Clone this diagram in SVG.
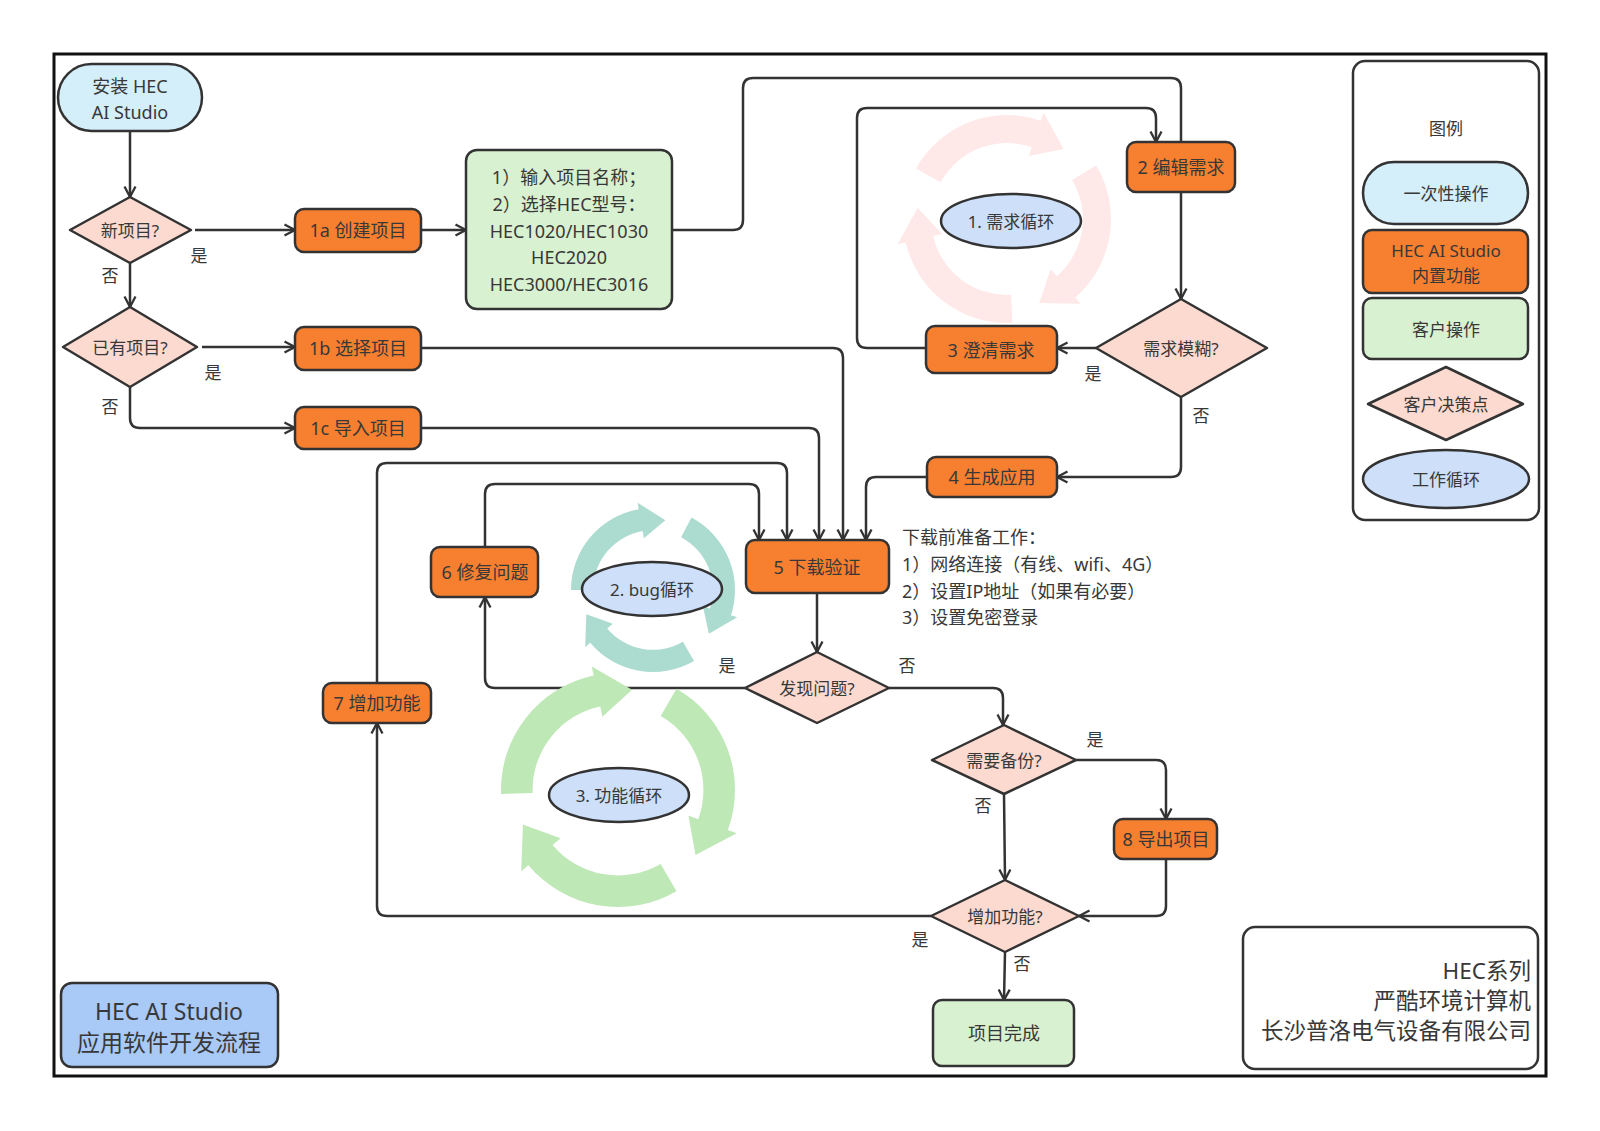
<svg xmlns="http://www.w3.org/2000/svg" xmlns:xlink="http://www.w3.org/1999/xlink" width="1600" height="1131" viewBox="0 0 1600 1131">
<style>
text{font-family:"Noto Sans","Noto Sans CJK SC",sans-serif;fill:#383838;}
.t{text-anchor:middle;dominant-baseline:central;font-size:18px;}
.d{text-anchor:middle;dominant-baseline:central;font-size:17px;}
.lb{text-anchor:middle;dominant-baseline:central;font-size:17px;}
.lg{text-anchor:middle;dominant-baseline:central;font-size:17px;}
.sh{stroke:#333;stroke-width:2.5;}
.or{fill:#f77f30;}
.bl{fill:#d4eefa;}
.gr{fill:#d8f1d1;}
.pk{fill:#fcdacf;}
.el{fill:#cddff9;}
.cn path{fill:none;stroke:#333;stroke-width:2.5;}
</style>
<defs>
<marker id="a" viewBox="0 0 14 14" refX="12.5" refY="7" markerWidth="14" markerHeight="14" markerUnits="userSpaceOnUse" orient="auto">
<path d="M2,1.5 L12.5,7 L2,12.5" fill="none" stroke="#333" stroke-width="2.3"/>
</marker>
<path id="seg" d="M1,0 A1,1 0 0 1 0.1736,0.9848 L0.1875,1.0636 L-0.1502,0.8519 L0.1111,0.6303 L0.1268,0.7189 A0.73,0.73 0 0 0 0.73,0 Z"/>
</defs>
<rect x="0" y="0" width="1600" height="1131" fill="#fff"/>
<rect x="54" y="54" width="1492" height="1022" fill="#fff" stroke="#111" stroke-width="3"/>

<g id="connectors" class="cn">
<path d="M130,131 V197" marker-end="url(#a)"/>
<path d="M195,230 H295" marker-end="url(#a)"/>
<path d="M130,263 V307" marker-end="url(#a)"/>
<path d="M202,347 H295" marker-end="url(#a)"/>
<path d="M130,387 V418 Q130,428 140,428 H295" marker-end="url(#a)"/>
<path d="M421,230 H466" marker-end="url(#a)"/>
<path d="M672,230 H733 Q743,230 743,220 V88 Q743,78 753,78 H1171 Q1181,78 1181,88 V142"/>
<path d="M926,348 H867 Q857,348 857,338 V118 Q857,108 867,108 H1146 Q1156,108 1156,118 V142" marker-end="url(#a)"/>
<path d="M1181,192 V299" marker-end="url(#a)"/>
<path d="M1096,348 H1057" marker-end="url(#a)"/>
<path d="M1181,397 V467 Q1181,477 1171,477 H1057" marker-end="url(#a)"/>
<path d="M927,477 H876 Q866,477 866,487 V540" marker-end="url(#a)"/>
<path d="M421,348 H833 Q843,348 843,358 V540" marker-end="url(#a)"/>
<path d="M421,428 H809 Q819,428 819,438 V540" marker-end="url(#a)"/>
<path d="M485,547 V494 Q485,484 495,484 H749 Q759,484 759,494 V540" marker-end="url(#a)"/>
<path d="M377,683 V473 Q377,463 387,463 H777 Q787,463 787,473 V540" marker-end="url(#a)"/>
<path d="M817,593 V652" marker-end="url(#a)"/>
<path d="M745,688 H495 Q485,688 485,678 V597" marker-end="url(#a)"/>
<path d="M889,688 H993 Q1003,688 1003,698 V725" marker-end="url(#a)"/>
<path d="M1076,760 H1156 Q1166,760 1166,770 V819" marker-end="url(#a)"/>
<path d="M1004,794 L1005,880" marker-end="url(#a)"/>
<path d="M1166,859 V906 Q1166,916 1156,916 H1079" marker-end="url(#a)"/>
<path d="M931,916 H387 Q377,916 377,906 V723" marker-end="url(#a)"/>
<path d="M1005,952 L1004,1000" marker-end="url(#a)"/>
</g>

<g id="cycle-pink" fill="#fee8e8">
<use xlink:href="#seg" transform="translate(1007,219) rotate(-151) scale(104)"/>
<use xlink:href="#seg" transform="translate(1007,219) rotate(-31) scale(104)"/>
<use xlink:href="#seg" transform="translate(1007,219) rotate(87) scale(104)"/>
</g>
<g id="cycle-teal" fill="#acdbcf">
<use xlink:href="#seg" transform="translate(653,590) rotate(180) scale(82)"/>
<use xlink:href="#seg" transform="translate(653,590) rotate(-62) scale(82)"/>
<use xlink:href="#seg" transform="translate(653,590) rotate(60) scale(82)"/>
</g>
<g id="cycle-green" fill="#bfe8b7">
<use xlink:href="#seg" transform="translate(618,790) rotate(178) scale(117)"/>
<use xlink:href="#seg" transform="translate(618,790) rotate(-60) scale(117)"/>
<use xlink:href="#seg" transform="translate(618,790) rotate(60) scale(117)"/>
</g>

<g id="install"><rect x="58" y="64" width="144" height="67" rx="33.5" class="bl sh"/><text x="130" y="86" class="t">安装 HEC</text><text x="130" y="112" class="t">AI Studio</text></g>
<g id="new-project"><path d="M70,230 L130,197 L191,230 L130,263 Z" class="pk sh" stroke-linejoin="round"/><text x="130" y="230" class="d">新项目?</text></g>
<g id="has-project"><path d="M63,347 L130,307 L197,347 L130,387 Z" class="pk sh" stroke-linejoin="round"/><text x="130" y="347" class="d">已有项目?</text></g>
<g id="n1a"><rect x="295" y="209" width="126" height="43" rx="9" class="or sh"/><text x="358" y="230" class="t">1a 创建项目</text></g>
<g id="n1b"><rect x="295" y="327" width="126" height="43" rx="9" class="or sh"/><text x="358" y="348" class="t">1b 选择项目</text></g>
<g id="n1c"><rect x="295" y="407" width="126" height="42" rx="9" class="or sh"/><text x="358" y="428" class="t">1c 导入项目</text></g>
<g id="input-info"><rect x="466" y="150" width="206" height="159" rx="11" class="gr sh"/>
<text x="569" y="177" class="t">1）输入项目名称；</text>
<text x="569" y="204" class="t">2）选择HEC型号：</text>
<text x="569" y="231" class="t">HEC1020/HEC1030</text>
<text x="569" y="257" class="t">HEC2020</text>
<text x="569" y="284" class="t">HEC3000/HEC3016</text></g>
<g id="n2"><rect x="1127" y="142" width="108" height="50" rx="9" class="or sh"/><text x="1181" y="167" class="t">2 编辑需求</text></g>
<g id="loop1"><ellipse cx="1011" cy="221" rx="70" ry="27" class="el sh"/><text x="1011" y="221" class="d">1. 需求循环</text></g>
<g id="req-vague"><path d="M1096,348 L1181,299 L1267,348 L1181,397 Z" class="pk sh" stroke-linejoin="round"/><text x="1181" y="348" class="d">需求模糊?</text></g>
<g id="n3"><rect x="926" y="326" width="131" height="47" rx="9" class="or sh"/><text x="991" y="350" class="t">3 澄清需求</text></g>
<g id="n4"><rect x="927" y="457" width="130" height="40" rx="9" class="or sh"/><text x="992" y="477" class="t">4 生成应用</text></g>
<g id="n5"><rect x="746" y="540" width="143" height="53" rx="9" class="or sh"/><text x="817" y="567" class="t">5 下载验证</text></g>
<g id="prep-note">
<text x="902" y="537" font-size="18" dominant-baseline="central">下载前准备工作：</text>
<text x="902" y="564" font-size="18" dominant-baseline="central">1）网络连接（有线、wifi、4G）</text>
<text x="902" y="591" font-size="18" dominant-baseline="central">2）设置IP地址（如果有必要）</text>
<text x="902" y="617" font-size="18" dominant-baseline="central">3）设置免密登录</text></g>
<g id="n6"><rect x="431" y="547" width="107" height="50" rx="9" class="or sh"/><text x="485" y="572" class="t">6 修复问题</text></g>
<g id="loop2"><ellipse cx="652" cy="589" rx="70" ry="27" class="el sh"/><text x="652" y="589" class="d">2. bug循环</text></g>
<g id="find-issue"><path d="M745,688 L817,652 L889,688 L817,723 Z" class="pk sh" stroke-linejoin="round"/><text x="817" y="688" class="d">发现问题?</text></g>
<g id="n7"><rect x="323" y="683" width="108" height="40" rx="9" class="or sh"/><text x="377" y="703" class="t">7 增加功能</text></g>
<g id="loop3"><ellipse cx="619" cy="795" rx="70" ry="27" class="el sh"/><text x="619" y="795" class="d">3. 功能循环</text></g>
<g id="need-backup"><path d="M932,760 L1004,725 L1076,760 L1004,794 Z" class="pk sh" stroke-linejoin="round"/><text x="1004" y="760" class="d">需要备份?</text></g>
<g id="n8"><rect x="1114" y="819" width="103" height="40" rx="9" class="or sh"/><text x="1166" y="839" class="t">8 导出项目</text></g>
<g id="add-feature"><path d="M931,916 L1005,880 L1079,916 L1005,952 Z" class="pk sh" stroke-linejoin="round"/><text x="1005" y="916" class="d">增加功能?</text></g>
<g id="done"><rect x="933" y="1000" width="141" height="66" rx="9" class="gr sh"/><text x="1004" y="1033" class="t">项目完成</text></g>

<g id="edge-labels">
<text x="199" y="255" class="lb">是</text>
<text x="110" y="275" class="lb">否</text>
<text x="213" y="372" class="lb">是</text>
<text x="110" y="406" class="lb">否</text>
<text x="1093" y="373" class="lb">是</text>
<text x="1201" y="415" class="lb">否</text>
<text x="727" y="665" class="lb">是</text>
<text x="907" y="665" class="lb">否</text>
<text x="1095" y="739" class="lb">是</text>
<text x="983" y="805" class="lb">否</text>
<text x="920" y="939" class="lb">是</text>
<text x="1022" y="963" class="lb">否</text>
</g>

<g id="legend">
<rect x="1353" y="61" width="186" height="459" rx="12" fill="#fff" class="sh"/>
<text x="1446" y="128" class="lg">图例</text>
<rect x="1363" y="162" width="165" height="62" rx="31" class="bl sh"/><text x="1446" y="193" class="lg">一次性操作</text>
<rect x="1363" y="230" width="165" height="63" rx="9" class="or sh"/><text x="1446" y="250" class="lg">HEC AI Studio</text><text x="1446" y="275" class="lg">内置功能</text>
<rect x="1363" y="298" width="165" height="61" rx="9" class="gr sh"/><text x="1446" y="329" class="lg">客户操作</text>
<path d="M1368,404 L1446,367 L1523,404 L1446,440 Z" class="pk sh" stroke-linejoin="round"/><text x="1446" y="404" class="lg">客户决策点</text>
<ellipse cx="1446" cy="479" rx="83" ry="29" class="el sh"/><text x="1446" y="479" class="lg">工作循环</text>
</g>

<g id="company">
<rect x="1243" y="927" width="295" height="142" rx="12" fill="#fff" class="sh"/>
<text x="1531" y="970" font-size="22.5" text-anchor="end" dominant-baseline="central">HEC系列</text>
<text x="1531" y="1000" font-size="22.5" text-anchor="end" dominant-baseline="central">严酷环境计算机</text>
<text x="1531" y="1030" font-size="22.5" text-anchor="end" dominant-baseline="central">长沙普洛电气设备有限公司</text>
</g>

<g id="title">
<rect x="61" y="983" width="217" height="84" rx="11" fill="#a9c9f7" class="sh"/>
<text x="169" y="1011" font-size="23" text-anchor="middle" dominant-baseline="central">HEC AI Studio</text>
<text x="169" y="1042" font-size="23" text-anchor="middle" dominant-baseline="central">应用软件开发流程</text>
</g>
</svg>
